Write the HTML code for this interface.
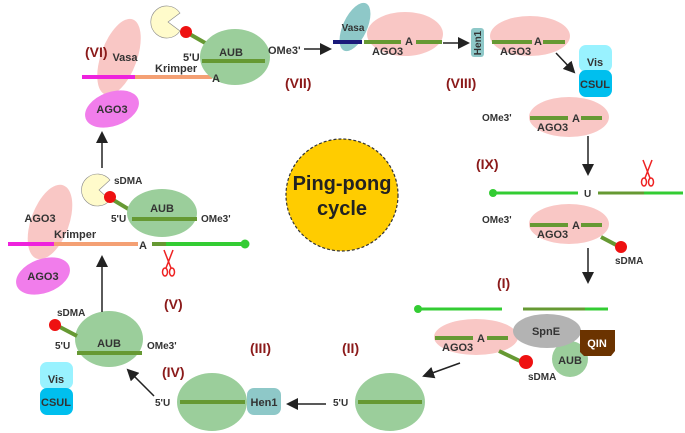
<!DOCTYPE html>
<html><head><meta charset="utf-8"><style>
html,body{margin:0;padding:0;background:#fff;}
svg{display:block;font-family:"Liberation Sans",Arial,sans-serif;font-weight:bold;}
.t{font-size:11px;fill:#333;}
.r{font-size:14px;fill:#8B1A1A;}
</style></head><body>
<svg width="685" height="433" viewBox="0 0 685 433">
<defs>
<marker id="ar2" markerWidth="12" markerHeight="12" refX="10" refY="6" orient="auto" markerUnits="userSpaceOnUse"><path d="M0,0 L12,6 L0,12 z" fill="#222"/></marker>
<g id="sc"><ellipse cx="-3" cy="10" rx="2.5" ry="4" fill="none" stroke="#e22" stroke-width="1.5"/><ellipse cx="4" cy="10" rx="2.5" ry="4" fill="none" stroke="#e22" stroke-width="1.5"/><line x1="-2" y1="6" x2="5" y2="-12" stroke="#e22" stroke-width="1.5"/><line x1="3" y1="6" x2="-4" y2="-12" stroke="#e22" stroke-width="1.5"/></g>
</defs>

<!-- center -->
<circle cx="342" cy="195" r="56" fill="#FFCC00" stroke="#333" stroke-width="1.2" stroke-dasharray="3,2"/>
<text x="342" y="190" text-anchor="middle" style="font-size:20px" fill="#222">Ping-pong</text>
<text x="342" y="215" text-anchor="middle" style="font-size:20px" fill="#222">cycle</text>

<!-- (VI) -->
<ellipse cx="119" cy="57" rx="18" ry="40" transform="rotate(20 119 57)" fill="#F9C7C5"/>
<ellipse cx="112" cy="109" rx="28" ry="17" transform="rotate(-20 112 109)" fill="#F17DEB"/>
<text x="112" y="113" text-anchor="middle" class="t">AGO3</text>
<text x="125" y="61" text-anchor="middle" class="t">Vasa</text>
<line x1="82" y1="77" x2="135" y2="77" stroke="#EE22DD" stroke-width="4"/>
<line x1="135" y1="77" x2="212" y2="77" stroke="#F4A074" stroke-width="4"/>
<text x="85" y="57" class="r">(VI)</text>
<path d="M168,22 L180,13 A16,16 0 1 0 180,31 Z" fill="#FFFBCB" stroke="#888" stroke-width="0.6"/>
<line x1="186" y1="32" x2="207" y2="44" stroke="#669933" stroke-width="4"/>
<circle cx="186" cy="32" r="6" fill="#EE1111"/>
<ellipse cx="235" cy="57" rx="35" ry="28" fill="#9BCE9B"/>
<line x1="202" y1="61" x2="265" y2="61" stroke="#669933" stroke-width="4"/>
<text x="212" y="82" class="t">A</text>
<text x="231" y="56" text-anchor="middle" class="t">AUB</text>
<text x="183" y="61" class="t">5'U</text>
<text x="155" y="72" class="t">Krimper</text>
<text x="268" y="54" class="t">OMe3'</text>
<line x1="304" y1="49" x2="330" y2="49" stroke="#222" stroke-width="1.5" marker-end="url(#ar2)"/>
<text x="285" y="88" class="r">(VII)</text>

<!-- (VII) Vasa AGO3 -->
<ellipse cx="405" cy="34" rx="38" ry="22" fill="#F9C7C5"/>
<ellipse cx="355" cy="27" rx="12" ry="26" transform="rotate(25 355 27)" fill="#8EC8C8"/>
<text x="353" y="31" text-anchor="middle" class="t" style="font-size:10px">Vasa</text>
<line x1="333" y1="42" x2="362" y2="42" stroke="#1A1A7A" stroke-width="4"/>
<line x1="364" y1="42" x2="401" y2="42" stroke="#669933" stroke-width="4"/>
<text x="405" y="45" class="t">A</text>
<line x1="416" y1="42" x2="442" y2="42" stroke="#669933" stroke-width="4"/>
<text x="372" y="55" class="t">AGO3</text>
<line x1="443" y1="43" x2="468" y2="43" stroke="#222" stroke-width="1.5" marker-end="url(#ar2)"/>
<rect x="471" y="28" width="13" height="29" rx="3" fill="#8EC8C8"/>
<text transform="translate(481 43) rotate(-90)" text-anchor="middle" class="t" style="font-size:10px">Hen1</text>
<ellipse cx="530" cy="36" rx="40" ry="20" fill="#F9C7C5"/>
<line x1="492" y1="42" x2="532" y2="42" stroke="#669933" stroke-width="4"/>
<text x="534" y="45" class="t">A</text>
<line x1="543" y1="42" x2="565" y2="42" stroke="#669933" stroke-width="4"/>
<text x="500" y="55" class="t">AGO3</text>
<text x="446" y="88" class="r">(VIII)</text>
<line x1="556" y1="53" x2="574" y2="72" stroke="#222" stroke-width="1.5" marker-end="url(#ar2)"/>
<rect x="579" y="45" width="33" height="27" rx="7" fill="#99F2FF"/>
<text x="595" y="66" text-anchor="middle" class="t">Vis</text>
<rect x="579" y="70" width="33" height="27" rx="7" fill="#00BFEE"/>
<text x="595" y="88" text-anchor="middle" class="t">CSUL</text>

<!-- (IX) -->
<ellipse cx="569" cy="117" rx="40" ry="20" fill="#F9C7C5"/>
<text x="482" y="121" class="t" style="font-size:10px">OMe3'</text>
<line x1="530" y1="118" x2="568" y2="118" stroke="#669933" stroke-width="4"/>
<text x="572" y="122" class="t">A</text>
<line x1="581" y1="118" x2="602" y2="118" stroke="#669933" stroke-width="4"/>
<text x="537" y="131" class="t">AGO3</text>
<line x1="588" y1="136" x2="588" y2="174" stroke="#222" stroke-width="1.5" marker-end="url(#ar2)"/>
<text x="476" y="169" class="r">(IX)</text>
<use href="#sc" x="647" y="172"/>
<circle cx="493" cy="193" r="4" fill="#33CC33"/>
<line x1="493" y1="193" x2="578" y2="193" stroke="#33CC33" stroke-width="3"/>
<text x="584" y="197" class="t" style="font-size:10px">U</text>
<line x1="598" y1="193" x2="644" y2="193" stroke="#669933" stroke-width="3"/>
<line x1="644" y1="193" x2="683" y2="193" stroke="#33CC33" stroke-width="3"/>
<ellipse cx="569" cy="224" rx="40" ry="20" fill="#F9C7C5"/>
<text x="482" y="223" class="t" style="font-size:10px">OMe3'</text>
<line x1="530" y1="225" x2="568" y2="225" stroke="#669933" stroke-width="4"/>
<text x="572" y="229" class="t">A</text>
<line x1="581" y1="225" x2="602" y2="225" stroke="#669933" stroke-width="4"/>
<text x="537" y="238" class="t">AGO3</text>
<line x1="601" y1="237" x2="620" y2="247" stroke="#669933" stroke-width="4"/>
<circle cx="621" cy="247" r="6" fill="#EE1111"/>
<text x="615" y="264" class="t" style="font-size:10px">sDMA</text>
<line x1="588" y1="248" x2="588" y2="282" stroke="#222" stroke-width="1.5" marker-end="url(#ar2)"/>

<!-- (I) -->
<text x="497" y="288" class="r">(I)</text>
<circle cx="418" cy="309" r="4" fill="#33CC33"/>
<line x1="418" y1="309" x2="502" y2="309" stroke="#33CC33" stroke-width="3"/>
<line x1="523" y1="309" x2="585" y2="309" stroke="#669933" stroke-width="3"/>
<line x1="585" y1="309" x2="608" y2="309" stroke="#33CC33" stroke-width="3"/>
<ellipse cx="476" cy="337" rx="42" ry="18" fill="#F9C7C5"/>
<line x1="435" y1="338" x2="473" y2="338" stroke="#669933" stroke-width="4"/>
<text x="477" y="342" class="t">A</text>
<line x1="487" y1="338" x2="508" y2="338" stroke="#669933" stroke-width="4"/>
<text x="442" y="351" class="t">AGO3</text>
<circle cx="570" cy="359" r="18" fill="#9BCE9B"/>
<text x="570" y="364" text-anchor="middle" class="t">AUB</text>
<ellipse cx="547" cy="331" rx="34" ry="17" fill="#B3B3B3"/>
<text x="546" y="335" text-anchor="middle" class="t">SpnE</text>
<path d="M580,330 L615,330 L615,351 L611,356 L584,356 L580,352 Z" fill="#6B3300"/>
<text x="597" y="347" text-anchor="middle" class="t" style="fill:#fff">QIN</text>
<line x1="499" y1="351" x2="522" y2="362" stroke="#669933" stroke-width="4"/>
<circle cx="526" cy="362" r="7" fill="#EE1111"/>
<text x="528" y="380" class="t" style="font-size:10px">sDMA</text>

<!-- (II) -->
<text x="342" y="353" class="r">(II)</text>
<line x1="460" y1="363" x2="424" y2="376" stroke="#222" stroke-width="1.5" marker-end="url(#ar2)"/>
<ellipse cx="390" cy="402" rx="35" ry="29" fill="#9BCE9B"/>
<line x1="358" y1="402" x2="422" y2="402" stroke="#669933" stroke-width="4"/>
<text x="333" y="406" class="t" style="font-size:10px">5'U</text>
<line x1="326" y1="404" x2="288" y2="404" stroke="#222" stroke-width="1.5" marker-end="url(#ar2)"/>

<!-- (III)/(IV) -->
<text x="250" y="353" class="r">(III)</text>
<ellipse cx="212" cy="402" rx="35" ry="29" fill="#9BCE9B"/>
<line x1="180" y1="402" x2="245" y2="402" stroke="#669933" stroke-width="4"/>
<rect x="247" y="388" width="34" height="27" rx="7" fill="#8EC8C8"/>
<text x="264" y="406" text-anchor="middle" class="t">Hen1</text>
<text x="155" y="406" class="t" style="font-size:10px">5'U</text>
<text x="162" y="377" class="r">(IV)</text>
<line x1="154" y1="396" x2="128" y2="370" stroke="#222" stroke-width="1.5" marker-end="url(#ar2)"/>

<!-- AUB loaded -->
<ellipse cx="109" cy="339" rx="34" ry="28" fill="#9BCE9B"/>
<line x1="77" y1="353" x2="142" y2="353" stroke="#669933" stroke-width="4"/>
<text x="109" y="347" text-anchor="middle" class="t">AUB</text>
<text x="55" y="349" class="t" style="font-size:10px">5'U</text>
<text x="147" y="349" class="t" style="font-size:10px">OMe3'</text>
<line x1="56" y1="325" x2="77" y2="336" stroke="#669933" stroke-width="4"/>
<circle cx="55" cy="325" r="6" fill="#EE1111"/>
<text x="57" y="316" class="t" style="font-size:10px">sDMA</text>
<rect x="40" y="362" width="33" height="27" rx="7" fill="#99F2FF"/>
<text x="56" y="383" text-anchor="middle" class="t">Vis</text>
<rect x="40" y="388" width="33" height="27" rx="7" fill="#00BFEE"/>
<text x="56" y="406" text-anchor="middle" class="t">CSUL</text>
<line x1="102" y1="312" x2="102" y2="257" stroke="#222" stroke-width="1.5" marker-end="url(#ar2)"/>
<text x="164" y="309" class="r">(V)</text>

<!-- (V) top -->
<ellipse cx="50" cy="222" rx="19" ry="39" transform="rotate(20 50 222)" fill="#F9C7C5"/>
<text x="40" y="222" text-anchor="middle" class="t">AGO3</text>
<ellipse cx="43" cy="276" rx="28" ry="17" transform="rotate(-20 43 276)" fill="#F17DEB"/>
<text x="43" y="280" text-anchor="middle" class="t">AGO3</text>
<line x1="8" y1="244" x2="54" y2="244" stroke="#EE22DD" stroke-width="4"/>
<line x1="54" y1="244" x2="138" y2="244" stroke="#F4A074" stroke-width="4"/>
<text x="139" y="249" class="t">A</text>
<line x1="152" y1="244" x2="166" y2="244" stroke="#669933" stroke-width="4"/>
<line x1="166" y1="244" x2="245" y2="244" stroke="#33CC33" stroke-width="4"/>
<circle cx="245" cy="244" r="4.5" fill="#33CC33"/>
<text x="54" y="238" class="t">Krimper</text>
<use href="#sc" x="168" y="262"/>
<path d="M99,190 L110,180 A16,16 0 1 0 110,200 Z" fill="#FFFBCB" stroke="#888" stroke-width="0.6"/>
<line x1="110" y1="198" x2="130" y2="210" stroke="#669933" stroke-width="4"/>
<ellipse cx="162" cy="213" rx="35" ry="24" fill="#9BCE9B"/>
<line x1="132" y1="219" x2="197" y2="219" stroke="#669933" stroke-width="4"/>
<circle cx="110" cy="197" r="6" fill="#EE1111"/>
<text x="162" y="212" text-anchor="middle" class="t">AUB</text>
<text x="111" y="222" class="t" style="font-size:10px">5'U</text>
<text x="201" y="222" class="t" style="font-size:10px">OMe3'</text>
<text x="114" y="184" class="t" style="font-size:10px">sDMA</text>
<line x1="102" y1="168" x2="102" y2="133" stroke="#222" stroke-width="1.5" marker-end="url(#ar2)"/>
</svg>
</body></html>
